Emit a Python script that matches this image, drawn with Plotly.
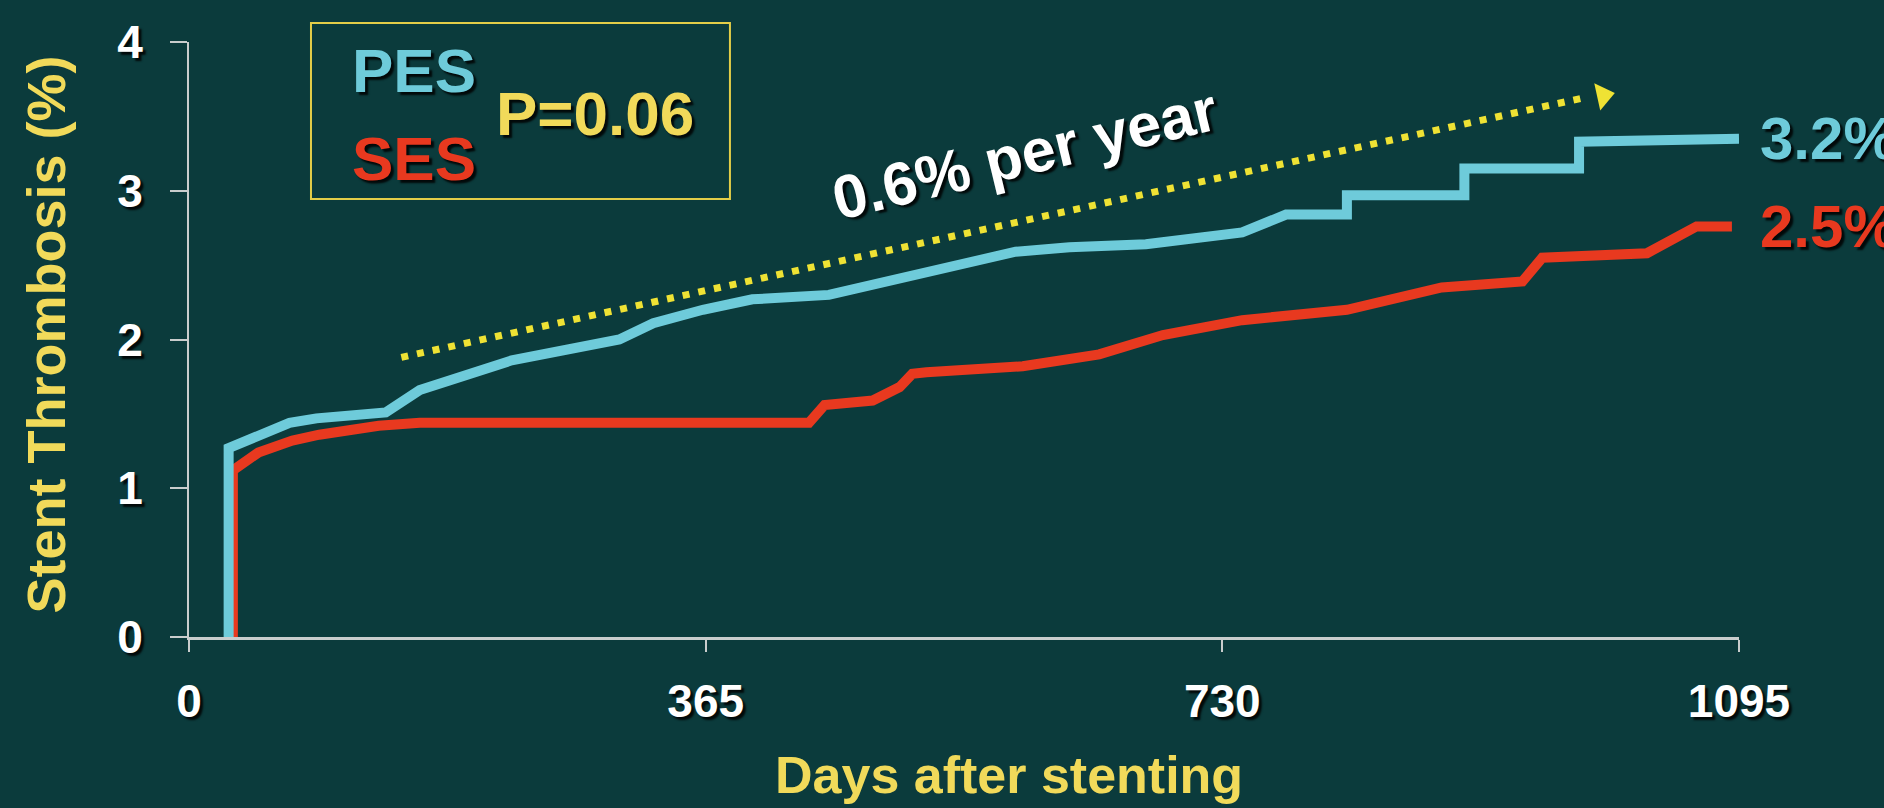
import plotly.graph_objects as go

# ---- data ----
pes_days = [28, 28, 71, 90, 139, 163, 228, 304, 328, 363, 398, 452, 584, 622, 676, 744, 775, 818, 818, 901, 901, 982, 982, 1095]
pes_vals = [0, 1.27, 1.44, 1.47, 1.51, 1.66, 1.86, 2.00, 2.11, 2.20, 2.27, 2.30, 2.59, 2.62, 2.64, 2.72, 2.84, 2.84, 2.97, 2.97, 3.15, 3.15, 3.33, 3.35]

ses_days = [31, 31, 49, 73, 92, 134, 163, 438, 449, 483, 502, 511, 521, 589, 643, 688, 744, 818, 885, 942, 956, 1030, 1065, 1090]
ses_vals = [0, 1.12, 1.24, 1.32, 1.36, 1.42, 1.44, 1.44, 1.56, 1.59, 1.68, 1.77, 1.78, 1.82, 1.90, 2.03, 2.13, 2.20, 2.35, 2.39, 2.55, 2.58, 2.76, 2.76]

trend_days = [150, 983]
trend_vals = [1.88, 3.62]
arrow_head_day = [999]
arrow_head_val = [3.64]

x_ticks = [0, 365, 730, 1095]
y_ticks = [0, 1, 2, 3, 4]

series_names = ["PES", "SES"]
end_labels = ["3.2%", "2.5%"]
p_label = "P=0.06"
trend_label = "0.6% per year"

# ---- styles ----
BG = "#0B3B3C"
CYAN = "#6ECBDA"
RED = "#E8391F"
YELLOW = "#F1DA5A"
DOTS = "#EFE234"
AXIS = "#C9CDCD"
FONT = "Liberation Sans, Arial, sans-serif"
SHADOW = "3px 3px 2px rgba(0,0,0,0.85)"
Y_MAX = 4.0

fig = go.Figure()

fig.add_trace(go.Scatter(x=ses_days, y=ses_vals, mode="lines",
                         line=dict(color=RED, width=10), name=series_names[1],
                         cliponaxis=False, hoverinfo="skip"))
fig.add_trace(go.Scatter(x=pes_days, y=pes_vals, mode="lines",
                         line=dict(color=CYAN, width=10), name=series_names[0],
                         cliponaxis=False, hoverinfo="skip"))

# dotted trend arrow
fig.add_trace(go.Scatter(x=trend_days, y=trend_vals, mode="lines",
                         line=dict(color=DOTS, width=7, dash="7px,9px"),
                         cliponaxis=False, hoverinfo="skip"))
fig.add_trace(go.Scatter(x=arrow_head_day, y=arrow_head_val, mode="markers",
                         marker=dict(symbol="triangle-right", size=24, color=DOTS,
                                     angle=-12.4, line=dict(width=0)),
                         cliponaxis=False, hoverinfo="skip"))

annotations = []
# legend box texts
annotations.append(dict(x=0.145, y=0.952, xref="paper", yref="paper", text="<b>PES</b>",
                        showarrow=False, xanchor="center", yanchor="middle",
                        font=dict(family=FONT, size=62, color=CYAN, shadow=SHADOW)))
annotations.append(dict(x=0.145, y=0.805, xref="paper", yref="paper", text="<b>SES</b>",
                        showarrow=False, xanchor="center", yanchor="middle",
                        font=dict(family=FONT, size=62, color=RED, shadow=SHADOW)))
annotations.append(dict(x=0.262, y=0.879, xref="paper", yref="paper", text="<b>" + p_label + "</b>",
                        showarrow=False, xanchor="center", yanchor="middle",
                        font=dict(family=FONT, size=62, color=YELLOW, shadow=SHADOW)))
# trend label
annotations.append(dict(x=590, y=3.25, xref="x", yref="y", text="<b>" + trend_label + "</b>",
                        showarrow=False, textangle=-13.5, xanchor="center", yanchor="middle",
                        font=dict(family=FONT, size=61, color="white", shadow=SHADOW)))
# end labels (outside plot area -> paper coords derived from data values)
annotations.append(dict(x=1.0123, y=pes_vals[-1] / Y_MAX, xref="paper", yref="paper",
                        text="<b>" + end_labels[0] + "</b>",
                        showarrow=False, xanchor="left", yanchor="middle",
                        font=dict(family=FONT, size=60, color=CYAN, shadow=SHADOW)))
annotations.append(dict(x=1.0123, y=ses_vals[-1] / Y_MAX, xref="paper", yref="paper",
                        text="<b>" + end_labels[1] + "</b>",
                        showarrow=False, xanchor="left", yanchor="middle",
                        font=dict(family=FONT, size=60, color=RED, shadow=SHADOW)))
# axis titles
annotations.append(dict(x=0.529, y=-0.232, xref="paper", yref="paper", text="<b>Days after stenting</b>",
                        showarrow=False, xanchor="center", yanchor="middle",
                        font=dict(family=FONT, size=52, color=YELLOW)))
annotations.append(dict(x=-0.092, y=0.509, xref="paper", yref="paper", text="<b>Stent Thrombosis (%)</b>",
                        showarrow=False, xanchor="center", yanchor="middle", textangle=-90,
                        font=dict(family=FONT, size=54, color=YELLOW)))

fig.update_layout(
    width=1884, height=808,
    margin=dict(l=189, r=145, t=42, b=171),
    paper_bgcolor=BG, plot_bgcolor=BG,
    showlegend=False,
    annotations=annotations,
    shapes=[dict(type="rect", xref="paper", yref="paper", x0=0.0787, x1=0.349, y0=0.736, y1=1.032,
                 line=dict(color="#E3CD48", width=2), fillcolor="rgba(0,0,0,0)")],
    xaxis=dict(range=[0, 1095], tickvals=x_ticks, ticktext=[str(t) for t in x_ticks],
               showgrid=False, zeroline=False, showline=True, linecolor=AXIS, linewidth=3,
               ticks="outside", ticklen=12, tickwidth=2, tickcolor=AXIS,
               ticklabelstandoff=10,
               tickfont=dict(family=FONT, size=46, color="white", weight="bold", shadow=SHADOW)),
    yaxis=dict(range=[0, Y_MAX], tickvals=y_ticks, ticktext=[str(t) for t in y_ticks],
               showgrid=False, zeroline=False, showline=True, linecolor=AXIS, linewidth=2,
               ticks="outside", ticklen=17, tickwidth=2, tickcolor=AXIS,
               ticklabelstandoff=18,
               tickfont=dict(family=FONT, size=46, color="white", weight="bold", shadow=SHADOW)),
)

fig.write_html("out.html")
